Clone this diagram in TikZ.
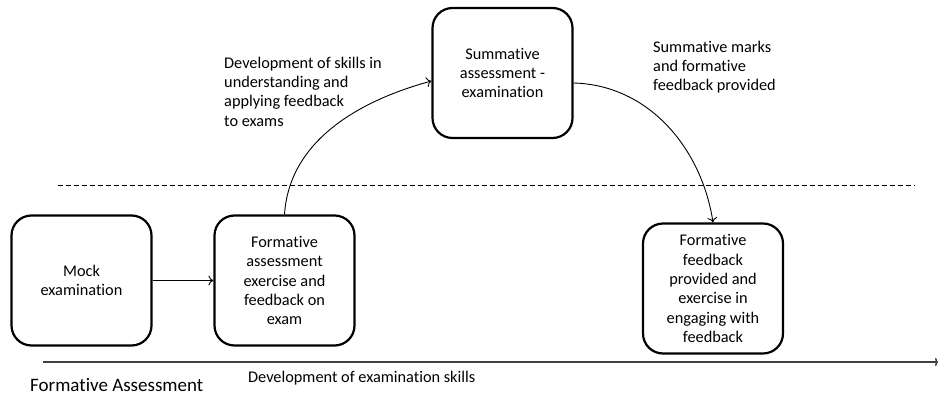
\documentclass[tikz,border=0pt]{standalone}
\usepackage{fontspec}
\setmainfont[Ligatures=NoCommon]{Carlito}
\usetikzlibrary{arrows.meta}
\begin{document}
\begin{tikzpicture}[x=1pt,y=-1pt,
  stagebox/.style={draw=black, line width=2.2pt, rounded corners=20pt, minimum width=140pt, minimum height=130pt, align=center, inner sep=2pt, font=\fontsize{16.3}{19.3}\selectfont},
  lbl/.style={inner sep=0pt, align=left, font=\fontsize{16.3}{19.3}\selectfont},
  conn/.style={line width=0.9pt, -{To[length=5pt,width=10pt]}},
  ]
\useasboundingbox (0,0) rectangle (939,396);
\fill[white] (0,0) rectangle (939,396);

\node[stagebox] (mock) at (81.5,280.5) {Mock\\examination};
\node[stagebox] (fa) at (284.5,280.5) {Formative\\assessment\\exercise and\\feedback on\\exam};
\node[stagebox] (sa) at (502.5,73) {Summative\\assessment -\\examination};
\node[stagebox] (ff) at (713,288.5) {Formative\\feedback\\provided and\\exercise in\\engaging with\\feedback};

\node[lbl, anchor=west] (t1) at (224,91.5) {Development of skills in\\understanding and\\applying feedback\\to exams};
\node[lbl, anchor=west] (t2) at (653,67) {Summative marks\\and formative\\feedback provided};

\coordinate (dl) at (58,185);
\coordinate (dr) at (915,185);
\draw[dashed, dash pattern=on 5pt off 3pt, line width=0.8pt] (dl) -- (dr);

\coordinate (bl) at (43,362);
\coordinate (br) at (938,362);
\draw[line width=1.5pt, draw=black!75, -{To[length=3pt,width=8pt]}] (bl) -- (br);

\node[lbl, font=\fontsize{19}{22}\selectfont, anchor=west] (fal) at (30,385) {Formative Assessment};
\node[lbl, anchor=west] (del) at (248,378) {Development of examination skills};

\draw[conn] (mock.east) -- (fa.west);
\draw[conn] (fa.north) .. controls (290,130) and (380,95) .. ([yshift=-8pt]sa.west);
\draw[conn] ([yshift=-10pt]sa.east) .. controls (650,85) and (702,150) .. (ff.north);
\end{tikzpicture}
\end{document}
